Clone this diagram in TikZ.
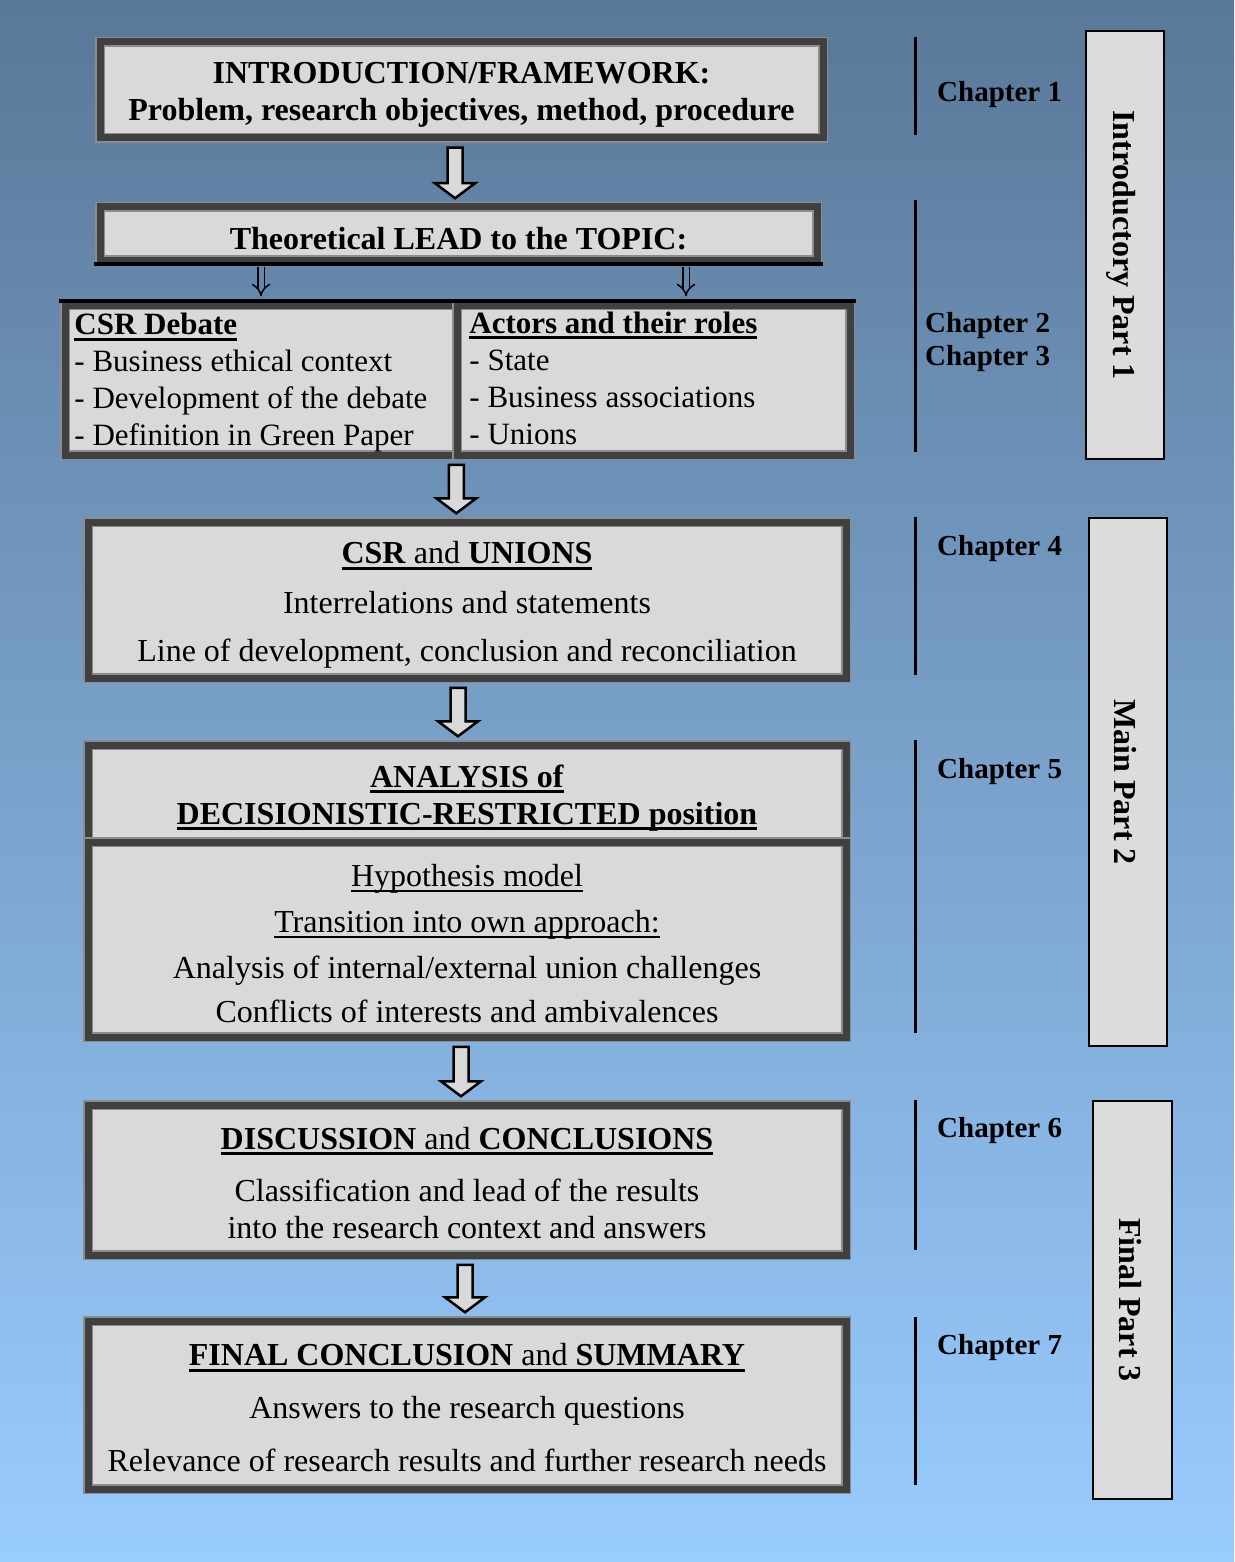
\documentclass[tikz,border=0pt]{standalone}
\usepackage{fontspec}
\setmainfont{Liberation Serif}
\usetikzlibrary{positioning,calc,arrows.meta}
\definecolor{bgtop}{RGB}{90,120,152}
\definecolor{bgbot}{RGB}{153,204,255}
\definecolor{bgmid}{RGB}{101,135,171}
\definecolor{boxfill}{RGB}{217,217,217}
\definecolor{boxedge}{RGB}{64,64,64}
\definecolor{boxline}{RGB}{140,140,140}
\definecolor{partfill}{RGB}{220,220,220}
\newcommand{\undl}[2][2pt]{\setbox0\hbox{#2}\rlap{\usebox0}\rule[-6pt]{\wd0}{#1}}

\begin{document}
\begin{tikzpicture}[x=1pt,y=-1pt]
       \tikzset{box/.style = {rectangle, draw=boxline, double=boxedge, double distance=7pt, line width=1.5pt, fill=boxfill, inner sep=0pt}, }
       \tikzset{txt/.style = {align=center, inner sep=0pt, font=\fontsize{32}{37}\selectfont}, }
       \tikzset{paneltxt/.style = {anchor=west, align=left, inner sep=0pt, font=\fontsize{31}{37}\selectfont}, }
       \tikzset{hollow/.style = {draw=black, fill=boxfill, line width=2.5pt, to path={let \p1=(\tikztostart), \p2=(\tikztotarget) in (\x1-7.5pt,\y1-9pt) -- (\x1+7.5pt,\y1-9pt) -- (\x1+7.5pt,\y2+23pt) -- (\x1+20pt,\y2+23pt) -- (\x1,\y2+8pt) -- (\x1-20pt,\y2+23pt) -- (\x1-7.5pt,\y2+23pt) -- cycle}}, }
       \tikzset{dbl/.style = {draw=black, double=bgmid, double distance=5pt, line width=1.5pt, -{Implies[scale=1.4]}, shorten <=6pt, shorten >=8pt}, }
       \tikzset{chap/.style = {anchor=west, inner sep=0pt, font=\fontsize{29}{33}\selectfont\bfseries}, }
       \tikzset{part/.style = {rectangle, draw=black, line width=2pt, fill=partfill, inner sep=0pt}, }
       \tikzset{parttxt/.style = {rotate=-90, inner sep=0pt, font=\fontsize{32}{37}\selectfont\bfseries}, }

       \shade[top color=bgtop, bottom color=bgbot] (0,0) rectangle (1234,1562);

       \node[box, minimum width=723pt, minimum height=96pt] (intro) at (461.5,90) {};
       \node[box, minimum width=717pt, minimum height=53pt] (lead) at (458.5,233.5) {};
       \node[box, minimum width=392pt, minimum height=150pt] (csr) at (261,380) {};
       \node[box, minimum width=393pt, minimum height=150pt] (actors) at (653.5,380) {};
       \node[box, minimum width=758pt, minimum height=156pt] (csrunions) at (467,600) {};
       \node[box, minimum width=758pt, minimum height=97pt] (analysis) at (467,793.5) {};
       \node[box, minimum width=758pt, minimum height=195pt] (hyp) at (467,939.5) {};
       \node[box, minimum width=758pt, minimum height=150pt] (discussion) at (467,1180) {};
       \node[box, minimum width=758pt, minimum height=168pt] (final) at (467,1405) {};

       \node[txt] (intro-t) at ([yshift=-4.5pt]intro.center) {\textbf{INTRODUCTION/FRAMEWORK:}\\ \textbf{Problem, research objectives, method, procedure}};
       \node[txt] (lead-t) at ([yshift=-5pt]lead.center) {\textbf{Theoretical LEAD to the TOPIC:}};
       \node[paneltxt] (csr-t) at ([xshift=10pt,yshift=-3pt]csr.west) {\undl[3pt]{\textbf{CSR Debate}}\\
       - Business ethical context\\
       - Development of the debate\\
       - Definition in Green Paper};
       \node[paneltxt] (actors-t) at ([xshift=13pt,yshift=2pt]actors.west) {\undl[3pt]{\textbf{Actors and their roles}}\\
       - State\\
       - Business associations\\
       - Unions};
       \node[txt] (csrunions-t) at ([yshift=-5pt]csrunions.center) {\undl[3pt]{\textbf{CSR} and \textbf{UNIONS}}\\[13pt]
       Interrelations and statements\\[11pt]
       Line of development, conclusion and reconciliation};
       \node[txt] (analysis-t) at ([yshift=-4.5pt]analysis.center) {\undl[3pt]{\textbf{ANALYSIS of}}\\
       \undl[3pt]{\textbf{DECISIONISTIC-RESTRICTED position}}};
       \node[txt] (hyp-t) at ([yshift=-4pt]hyp.center) {\undl{Hypothesis model}\\[9pt]
       \undl{Transition into own approach:}\\[9pt]
       Analysis of internal/external union challenges\\[7pt]
       Conflicts of interests and ambivalences};
       \node[txt] (discussion-t) at ([yshift=-3pt]discussion.center) {\undl[3pt]{\textbf{DISCUSSION} and \textbf{CONCLUSIONS}}\\[15pt]
       Classification and lead of the results\\
       into the research context and answers};
       \node[txt] (final-t) at ([yshift=-3pt]final.center) {\undl[3pt]{\textbf{FINAL CONCLUSION} and \textbf{SUMMARY}}\\[16pt]
       Answers to the research questions\\[16pt]
       Relevance of research results and further research needs};

       \draw[line width=3.5pt] ([xshift=-5pt,yshift=-3.25pt]lead.south west) -- ([xshift=5pt,yshift=-3.25pt]lead.south east);
       \draw[line width=3.5pt] ([xshift=-5pt,yshift=3.25pt]csr.north west) -- ([xshift=5pt,yshift=3.25pt]actors.north east);

       \coordinate (rt) at ([xshift=32.5pt]actors.north);
       \draw[dbl] (lead.south -| csr.north) -- (csr.north);
       \draw[dbl] (lead.south -| rt) -- (rt);

       \draw[hollow] ([xshift=-6.5pt]intro.south) to (lead.north);
       \draw[hollow] (actors.south west) to (csrunions.north);
       \draw[hollow] ([xshift=-9pt]csrunions.south) to (analysis.north);
       \draw[hollow] ([xshift=-6pt]hyp.south) to (discussion.north);
       \draw[hollow] ([xshift=-2pt]discussion.south) to (final.north);

       \foreach \ya/\yb in {37/135, 200/452, 517/675, 740/1033, 1100/1250, 1317/1485}
         \draw[line width=3pt] (915,\ya) -- (915,\yb);

       \node[chap] (ch1) at (937,95) {Chapter 1};
       \node[chap, align=left] (ch23) at (925,342) {Chapter 2\\ Chapter 3};
       \node[chap] (ch4) at (937,549) {Chapter 4};
       \node[chap] (ch5) at (937,772) {Chapter 5};
       \node[chap] (ch6) at (937,1131) {Chapter 6};
       \node[chap] (ch7) at (937,1348) {Chapter 7};

       \node[part, minimum width=78pt, minimum height=428pt] (part1) at (1125,245) {};
       \node[part, minimum width=78pt, minimum height=528pt] (part2) at (1128,782) {};
       \node[part, minimum width=79pt, minimum height=398pt] (part3) at (1132.5,1300) {};
       \node[parttxt] (part1-t) at ([xshift=-4pt]part1.center) {Introductory Part 1};
       \node[parttxt] (part2-t) at ([xshift=-3pt]part2.center) {Main Part 2};
       \node[parttxt] (part3-t) at ([xshift=-2pt]part3.center) {Final Part 3};

\end{tikzpicture}
\end{document}
